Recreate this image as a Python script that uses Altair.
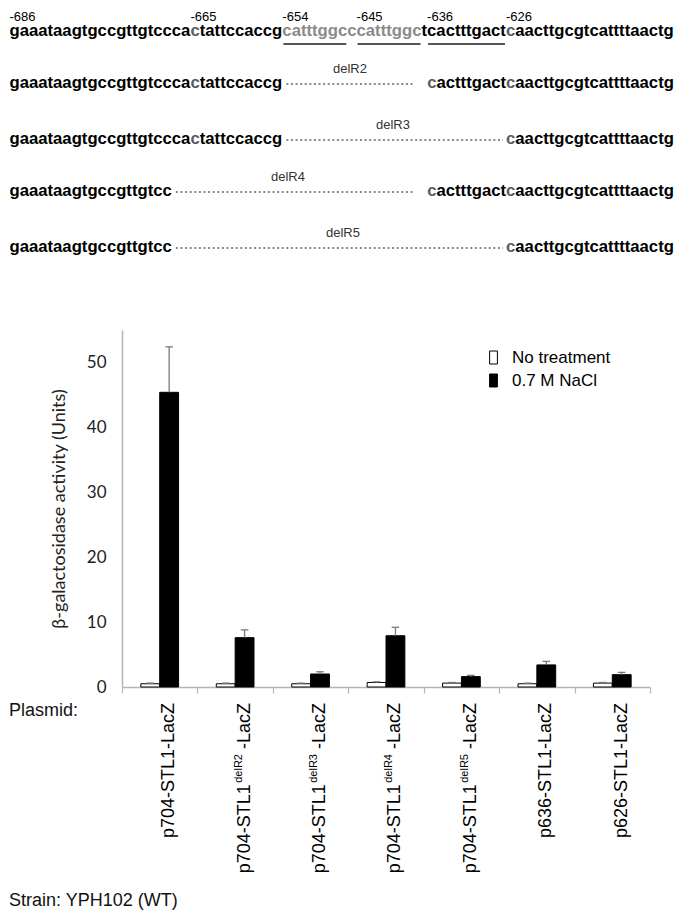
import altair as alt
import pandas as pd

# ---------------- data ----------------
sequence = "gaaataagtgccgttgtcccactattccaccgcatttggcccatttggctcactttgactcaacttgcgtcattttaactg"
position_labels = ["-686", "-665", "-654", "-645", "-636", "-626"]
position_index = [0, 21, 32, 41, 50, 60]
deletions = ["delR2", "delR3", "delR4", "delR5"]

label_main = ["p704-STL1-LacZ", "p704-STL1", "p704-STL1", "p704-STL1", "p704-STL1",
              "p636-STL1-LacZ", "p626-STL1-LacZ"]
label_sup = ["", "delR2", "delR3", "delR4", "delR5", "", ""]
label_tail = ["", "-LacZ", "-LacZ", "-LacZ", "-LacZ", "", ""]
treatments = ["No treatment", "0.7 M NaCl"]
no_treatment = [0.5, 0.5, 0.5, 0.7, 0.6, 0.5, 0.6]
no_treatment_err = [0.1, 0.1, 0.1, 0.1, 0.1, 0.1, 0.1]
nacl = [45.4, 7.6, 2.0, 7.9, 1.6, 3.4, 1.9]
nacl_err = [7.0, 1.2, 0.35, 1.3, 0.2, 0.55, 0.35]
y_ticks = [0, 10, 20, 30, 40, 50]

# ---------------- layout helpers ----------------
PLOT_LEFT, PLOT_TOP, W, H = 122, 330, 528, 357
def px(v): return v - PLOT_LEFT
def py(v): return v - PLOT_TOP

BOLD = {"a": 556, "c": 556, "g": 611, "t": 333}
REG = {"p": 556, "-": 333, "S": 667, "T": 611, "L": 556, "a": 556, "c": 500, "Z": 611,
       "d": 556, "e": 556, "l": 222, "R": 722, " ": 278}
for d in "0123456789":
    REG[d] = 556
SEQ_FS = 16.7
def sw(s, fs=SEQ_FS): return sum(BOLD[c] for c in s) * fs / 1000
def rw(s, fs): return sum(REG[c] for c in s) * fs / 1000

LIGHT, MID, BLACK = "#8a8a8a", "#5c5c5c", "#000000"
seq_rows, rule_rows = [], []

def add_frag(indices, start_x, baseline, light, mid):
    x = start_x
    cur, cur_x, cur_col = "", x, None
    for i in indices:
        col = LIGHT if i in light else (MID if i in mid else BLACK)
        if cur and col != cur_col:
            seq_rows.append({"t": cur, "x": px(cur_x), "y": py(baseline), "col": cur_col})
            cur, cur_x = "", x
        cur += sequence[i]
        cur_col = col
        x += sw(sequence[i])
    seq_rows.append({"t": cur, "x": px(cur_x), "y": py(baseline), "col": cur_col})

LEFT_X, RIGHT_X = 9.5, 674
add_frag(range(0, 81), LEFT_X, 36, set(range(32, 49)), {21, 60})
lines = [  # left indices, right indices, baseline, mid-grey, gap before right part, label centre
    (range(0, 32), range(50, 81), 88, {21, 50, 60}, 14, 350),
    (range(0, 32), range(60, 81), 144, {21, 60}, 3, 393),
    (range(0, 19), range(50, 81), 196, {50, 60}, 14, 288),
    (range(0, 19), range(60, 81), 252, {60}, 3, 343),
]
del_rows = []
for k, (L, R, bl, mid, g, lc) in enumerate(lines):
    add_frag(L, LEFT_X, bl, set(), mid)
    rs = "".join(sequence[i] for i in R)
    rstart = RIGHT_X - sw(rs)
    add_frag(R, rstart, bl, set(), mid)
    lend = LEFT_X + sw("".join(sequence[i] for i in L))
    rule_rows.append({"x1": px(lend + 4), "x2": px(rstart - g), "y": py(bl - 4), "kind": "dots"})
    del_rows.append({"t": deletions[k], "x": px(lc), "y": py(bl - 15)})

num_rows = [{"t": t, "x": px(LEFT_X + sw(sequence[:i])), "y": py(20.5)}
            for t, i in zip(position_labels, position_index)]
for a, b in [(32, 40), (41, 49), (50, 60)]:
    rule_rows.append({"x1": px(LEFT_X + sw(sequence[:a]) + 1),
                      "x2": px(LEFT_X + sw(sequence[:b]) - 1), "y": py(44), "kind": "under"})

misc_rows = [{"t": "Plasmid:", "x": px(9), "y": py(716)},
             {"t": "Strain: YPH102 (WT)", "x": px(9), "y": py(906)}]

seq_df = pd.DataFrame(seq_rows)
num_df = pd.DataFrame(num_rows)
del_df = pd.DataFrame(del_rows)
rule_df = pd.DataFrame(rule_rows)
misc_df = pd.DataFrame(misc_rows)

# ---------------- bar data ----------------
bar_rows, err_rows = [], []
for i in range(len(label_main)):
    for j, (vals, errs) in enumerate([(no_treatment, no_treatment_err), (nacl, nacl_err)]):
        x0 = 4 * i + 1 + j
        bar_rows.append({"x0": x0, "x1": x0 + 1, "v": vals[i], "zero": 0, "treatment": treatments[j]})
        err_rows.append({"xc": x0 + 0.5, "cl": x0 + 0.3, "cr": x0 + 0.7,
                         "v": vals[i], "top": vals[i] + errs[i]})
bar_df = pd.DataFrame(bar_rows)
err_df = pd.DataFrame(err_rows)

LAB_FS, SUP_FS = 18, 11
tail_w = rw("-LacZ", LAB_FS)
gap = rw(" ", LAB_FS)
sup_w = rw("delR2", SUP_FS)
lab_df = pd.DataFrame([{"t": (label_main[i] if not label_sup[i] else label_tail[i]), "xq": 4 * i + 2.5}
                       for i in range(len(label_main))])
sup_df = pd.DataFrame([{"t": label_sup[i], "xq": 4 * i + 2.5} for i in range(len(label_main)) if label_sup[i]])
pre_df = pd.DataFrame([{"t": label_main[i], "xq": 4 * i + 2.5} for i in range(len(label_main)) if label_sup[i]])

# ---------------- chart ----------------
AX = "#b5b5b5"
xscale = alt.Scale(domain=[0, 28], nice=False, zero=False)
yscale = alt.Scale(domain=[0, 55], nice=False, zero=True)

bars = alt.Chart(bar_df).mark_bar(stroke="black", strokeWidth=1).encode(
    x=alt.X("x0:Q", scale=xscale,
            axis=alt.Axis(values=list(range(29)), labels=False, title=None, tickSize=6,
                          tickColor=AX, domainColor=AX, domainWidth=1.5, tickWidth=1.2, grid=False)),
    x2="x1:Q",
    y=alt.Y("v:Q", scale=yscale,
            axis=alt.Axis(values=y_ticks, title="β-galactosidase activity (Units)",
                          titleFont="Lato", titleFontSize=18, titleFontWeight="normal",
                          titleColor="#222222", titleX=-63, titleY=H / 2, titleAngle=270,
                          titleAlign="center", titleBaseline="middle",
                          labelFont="Lato", labelFontSize=17, labelColor="#222222",
                          labelPadding=16, ticks=False, domainColor=AX, domainWidth=1.5, grid=False)),
    y2="zero:Q",
    fill=alt.Fill("treatment:N", sort=treatments,
                  scale=alt.Scale(domain=treatments, range=["white", "black"]),
                  legend=alt.Legend(title=None, orient="none", legendX=363, legendY=19,
                                    symbolType="M-0.6,-1H0.6V1H-0.6Z", symbolSize=169,
                                    symbolStrokeColor="black", symbolStrokeWidth=1,
                                    labelFont="Liberation Sans", labelFontSize=17,
                                    labelColor="black", labelOffset=10, rowPadding=5)),
)

err_line = alt.Chart(err_df).mark_rule(color="#7a7a7a", strokeWidth=1.3).encode(
    x="xc:Q", y="v:Q", y2="top:Q")
err_cap = alt.Chart(err_df).mark_rule(color="#7a7a7a", strokeWidth=1.3).encode(
    x="cl:Q", x2="cr:Q", y="top:Q")

lab_common = dict(angle=270, align="right", baseline="middle", font="Liberation Sans", color="black")
labels = alt.Chart(lab_df).mark_text(fontSize=LAB_FS, **lab_common).encode(
    x="xq:Q", y=alt.value(py(703)), text="t:N")
sups = alt.Chart(sup_df).mark_text(fontSize=SUP_FS, dx=-(tail_w + gap), dy=-6, **lab_common).encode(
    x="xq:Q", y=alt.value(py(703)), text="t:N")
pres = alt.Chart(pre_df).mark_text(fontSize=LAB_FS, dx=-(tail_w + gap + sup_w + 1.5), **lab_common).encode(
    x="xq:Q", y=alt.value(py(703)), text="t:N")

def pix_text(df, **kw):
    return alt.Chart(df).mark_text(align="left", baseline="alphabetic", **kw).encode(
        x=alt.X("x:Q", scale=None), y=alt.Y("y:Q", scale=None), text="t:N")

seq_text = alt.Chart(seq_df).mark_text(align="left", baseline="alphabetic", font="Liberation Sans",
                                       fontWeight="bold", fontSize=SEQ_FS).encode(
    x=alt.X("x:Q", scale=None), y=alt.Y("y:Q", scale=None), text="t:N",
    color=alt.Color("col:N", scale=None))
num_text = pix_text(num_df, font="Liberation Sans", fontSize=13, color="black")
del_text = alt.Chart(del_df).mark_text(align="center", baseline="alphabetic", font="Liberation Sans",
                                       fontSize=13, color="#333333").encode(
    x=alt.X("x:Q", scale=None), y=alt.Y("y:Q", scale=None), text="t:N")
misc_text = pix_text(misc_df, font="Liberation Sans", fontSize=18, color="#111111")

dots = alt.Chart(rule_df[rule_df.kind == "dots"]).mark_rule(
    color="#8a8a8a", strokeWidth=2, strokeDash=[2, 2.6]).encode(
    x=alt.X("x1:Q", scale=None), x2="x2:Q", y=alt.Y("y:Q", scale=None))
unders = alt.Chart(rule_df[rule_df.kind == "under"]).mark_rule(
    color="#555555", strokeWidth=2).encode(
    x=alt.X("x1:Q", scale=None), x2="x2:Q", y=alt.Y("y:Q", scale=None))

chart = alt.layer(
    bars, err_line, err_cap, labels, sups, pres,
    seq_text, num_text, del_text, misc_text, dots, unders,
).properties(
    width=W, height=H,
    padding={"left": 114, "top": 322, "right": 25, "bottom": 223},
    autosize=alt.AutoSizeParams(type="none"),
).configure_view(stroke=None)

chart.save("out.html", embed_options={"renderer": "svg", "actions": False})
